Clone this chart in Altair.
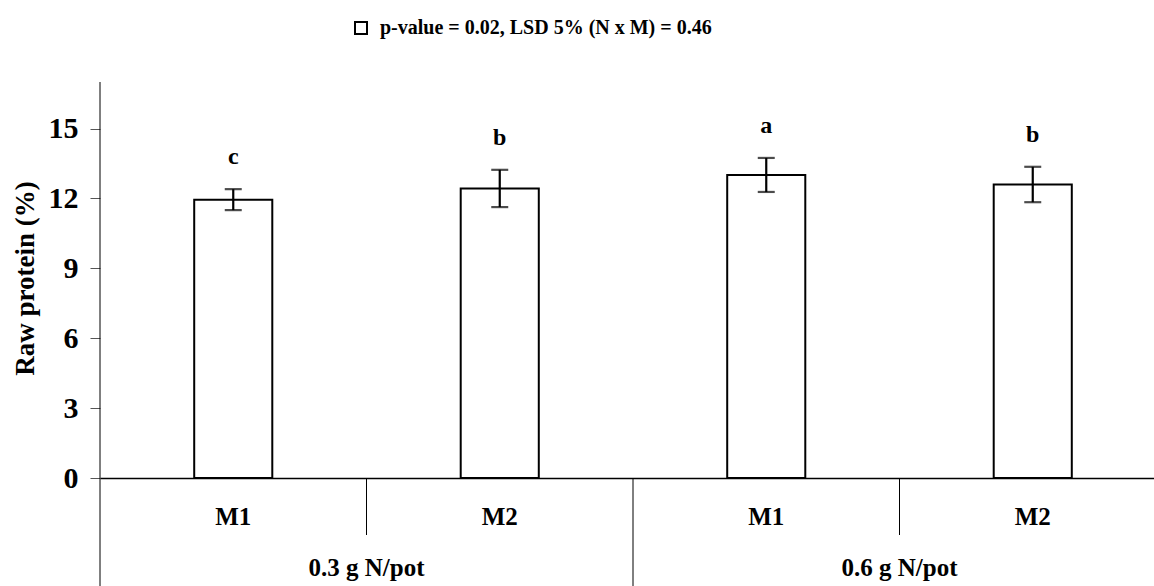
import altair as alt
import pandas as pd

# ---- data ----
nitrogen = ["0.3 g N/pot", "0.3 g N/pot", "0.6 g N/pot", "0.6 g N/pot"]
mycorrhiza = ["M1", "M2", "M1", "M2"]
protein = [11.95, 12.43, 13.01, 12.60]
error = [0.45, 0.80, 0.73, 0.76]
letters = ["c", "b", "a", "b"]
groups = ["0.3 g N/pot", "0.6 g N/pot"]
legend_text = "p-value = 0.02, LSD 5% (N x M) = 0.46"
y_ticks = [0, 3, 6, 9, 12, 15]

cats = [f"{n}|{m}" for n, m in zip(nitrogen, mycorrhiza)]
df = pd.DataFrame({
    "cat": cats,
    "nitrogen": nitrogen,
    "myc": mycorrhiza,
    "protein": protein,
    "lo": [p - e for p, e in zip(protein, error)],
    "hi": [p + e for p, e in zip(protein, error)],
    "letter": letters,
    "series": [legend_text] * len(cats),
})
grp_df = pd.DataFrame({"group": groups, "anchor": [f"{g}|M2" for g in groups]})
sep_short = pd.DataFrame({"cat": [f"{g}|M2" for g in groups]})
sep_long = pd.DataFrame({"cat": [f"{groups[1]}|M1"]})

FONT = "Liberation Serif"
W, H = 1054, 396

xscale = alt.Scale(domain=cats, range=[0, 1066], paddingInner=0, paddingOuter=0)
yscale = alt.Scale(domain=[0, 17], nice=False)

x_enc = alt.X("cat:N", scale=xscale,
              axis=alt.Axis(title=None, labels=False, ticks=False, domainColor="black",
                            domainWidth=1.5, grid=False))

base = alt.Chart(df)

bars = base.mark_bar(stroke="black", strokeWidth=2, width=alt.RelativeBandSize(0.293)).encode(
    x=x_enc,
    y=alt.Y("protein:Q", scale=yscale,
            axis=alt.Axis(title="Raw protein (%)", values=y_ticks, domain=False, grid=False,
                          tickColor="#555", tickSize=10, tickWidth=1,
                          labelFont=FONT, labelFontWeight="bold", labelFontSize=30,
                          labelColor="black", labelPadding=12,
                          titleFont=FONT, titleFontWeight="bold", titleFontSize=27,
                          titleColor="black", titleX=-75, titleY=H / 2 - 2, titleAngle=-90,
                          titleAlign="center", titleBaseline="middle")),
    fill=alt.Fill("series:N", scale=alt.Scale(range=["white"]),
                  legend=alt.Legend(title=None, orient="none", legendX=251, legendY=-64,
                                    symbolType="square", symbolSize=144,
                                    symbolStrokeColor="black", symbolStrokeWidth=2,
                                    symbolFillColor="white", labelOffset=9,
                                    labelLimit=0,
                                    labelFont=FONT, labelFontWeight="bold",
                                    labelFontSize=20, labelColor="black", padding=0)),
)

err = base.mark_rule(color="black", strokeWidth=2.2).encode(
    x="cat:N", y="lo:Q", y2="hi:Q"
)
caps_hi = base.mark_tick(color="black", thickness=2.2, size=17).encode(x="cat:N", y="hi:Q")
caps_lo = base.mark_tick(color="black", thickness=2.2, size=17).encode(x="cat:N", y="lo:Q")

letter_txt = base.mark_text(font=FONT, fontWeight="bold", fontSize=24, color="black",
                            baseline="middle", dy=-32).encode(
    x="cat:N", y="hi:Q", text="letter:N"
)

m_labels = base.mark_text(font=FONT, fontWeight="bold", fontSize=25, color="black",
                          baseline="middle").encode(
    x="cat:N", y=alt.value(435), text="myc:N"
)

g_labels = alt.Chart(grp_df).mark_text(font=FONT, fontWeight="bold", fontSize=25,
                                       color="black", baseline="middle").encode(
    x=alt.X("anchor:N", bandPosition=0), y=alt.value(486), text="group:N"
)

short_rules = alt.Chart(sep_short).mark_rule(color="black", strokeWidth=1).encode(
    x=alt.X("cat:N", bandPosition=0), y=alt.value(H), y2=alt.value(H + 57)
)
long_rules = alt.Chart(sep_long).mark_rule(color="black", strokeWidth=1).encode(
    x=alt.X("cat:N", bandPosition=0), y=alt.value(H), y2=alt.value(H + 110)
)
yaxis_line = alt.Chart(sep_long).mark_rule(color="black", strokeWidth=1).encode(
    x=alt.value(0), y=alt.value(0), y2=alt.value(H + 110)
)

chart = alt.layer(
    bars, err, caps_hi, caps_lo, letter_txt, m_labels, g_labels,
    short_rules, long_rules, yaxis_line
).resolve_scale(x="shared").properties(
    width=W, height=H,
    autosize=alt.AutoSizeParams(type="none"),
    padding={"left": 100, "top": 82, "right": 0, "bottom": 108},
    background="white",
).configure_view(stroke=None)

chart.save("out.html", embed_options={"renderer": "svg", "actions": False})
